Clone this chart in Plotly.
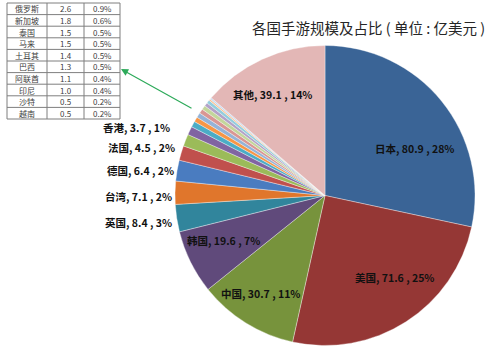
import plotly.graph_objects as go

W, H = 495, 353

# ---- data ----
countries = ["日本", "美国", "中国", "韩国", "英国", "台湾", "德国", "法国", "香港",
             "俄罗斯", "新加坡", "泰国", "马来", "土耳其", "巴西", "阿联酋", "印尼", "沙特", "越南", "其他"]
values = [80.9, 71.6, 30.7, 19.6, 8.4, 7.1, 6.4, 4.5, 3.7,
          2.6, 1.8, 1.5, 1.5, 1.4, 1.3, 1.1, 1.0, 0.5, 0.5, 39.1]
colors = ["#3A6496", "#953735", "#77933C", "#604A7B", "#31859C", "#E0762C", "#4A7CC0", "#C0504D", "#9BBB59",
          "#8064A2", "#4BACC6", "#F79646", "#95B3D7", "#D99694", "#C3D69B", "#B3A2C7", "#93CDDD", "#FAC090", "#C6D9F1",
          "#E3B7B6"]

table_names = ["俄罗斯", "新加坡", "泰国", "马来", "土耳其", "巴西", "阿联酋", "印尼", "沙特", "越南"]
table_values = ["2.6", "1.8", "1.5", "1.5", "1.4", "1.3", "1.1", "1.0", "0.5", "0.5"]
table_pcts = ["0.9%", "0.6%", "0.5%", "0.5%", "0.5%", "0.5%", "0.4%", "0.4%", "0.2%", "0.2%"]

# labelled slices and label anchor positions (pixels)
label_names = ["日本", "美国", "中国", "韩国", "英国", "台湾", "德国", "法国", "香港", "其他"]
label_pos = [(414, 148), (394, 277), (260, 293), (223, 241), (138, 222),
             (138, 196), (140, 170), (141, 147), (136, 127), (272, 95)]

title = "各国手游规模及占比 ( 单位 : 亿美元 )"

total = sum(values)


def px(x, y):
    return x / W, 1 - y / H


fig = go.Figure()

fig.add_trace(go.Pie(
    labels=countries, values=values, sort=False, direction="clockwise", rotation=0,
    marker=dict(colors=colors, line=dict(color="rgba(255,255,255,0.6)", width=0.6)),
    textinfo="none", hoverinfo="label+value+percent", showlegend=False,
    domain=dict(x=[175 / W, 475 / W], y=[1 - 346 / H, 1 - 45 / H]),
))

shapes = []
annotations = []

# ---- table drawn with lines + text ----
col_x = [7, 47, 84, 120]
top, row_h = 3, 11.6
nrows = len(table_names)
bottom = top + nrows * row_h
for cx in col_x:
    x0, y0 = px(cx, top)
    x1, y1 = px(cx, bottom)
    shapes.append(dict(type="line", xref="paper", yref="paper", x0=x0, y0=y0, x1=x1, y1=y1,
                       line=dict(color="#7f7f7f", width=1)))
for r in range(nrows + 1):
    y = top + r * row_h
    x0, y0 = px(col_x[0], y)
    x1, y1 = px(col_x[-1], y)
    shapes.append(dict(type="line", xref="paper", yref="paper", x0=x0, y0=y0, x1=x1, y1=y1,
                       line=dict(color="#7f7f7f", width=1)))
for r, row in enumerate(zip(table_names, table_values, table_pcts)):
    cy = top + (r + 0.5) * row_h
    for c, txt in enumerate(row):
        cx = (col_x[c] + col_x[c + 1]) / 2
        ax, ay = px(cx, cy)
        annotations.append(dict(x=ax, y=ay, xref="paper", yref="paper", showarrow=False, text=txt,
                                font=dict(family="Noto Sans CJK SC", size=8, color="#404040"),
                                xanchor="center", yanchor="middle"))

# ---- slice labels ----
for name, (lx, ly) in zip(label_names, label_pos):
    i = countries.index(name)
    v = values[i]
    pct = round(v / total * 100)
    ax, ay = px(lx, ly)
    annotations.append(dict(
        x=ax, y=ay, xref="paper", yref="paper", showarrow=False,
        text=f"<b>{name}, {v:.1f} , {pct}%</b>",
        font=dict(family="Noto Sans CJK SC", size=10.5, color="#111111"),
        xanchor="center", yanchor="middle"))

# title
tx, ty = px(368, 28)
annotations.append(dict(x=tx, y=ty, xref="paper", yref="paper", showarrow=False, text=title,
                        font=dict(family="Noto Sans CJK SC", size=14.5, color="#262626"),
                        xanchor="center", yanchor="middle"))

# green arrow pointing to table
hx, hy = px(121, 69)
annotations.append(dict(x=hx, y=hy, ax=193 - 121, ay=109 - 69, xref="paper", yref="paper",
                        showarrow=True, arrowhead=2,
                        arrowsize=1.2, arrowwidth=1.2, arrowcolor="#2DAA5A", text=""))

fig.update_layout(
    width=W, height=H, margin=dict(l=0, r=0, t=0, b=0),
    paper_bgcolor="white", plot_bgcolor="white",
    shapes=shapes, annotations=annotations,
)

fig.write_html("out.html")
